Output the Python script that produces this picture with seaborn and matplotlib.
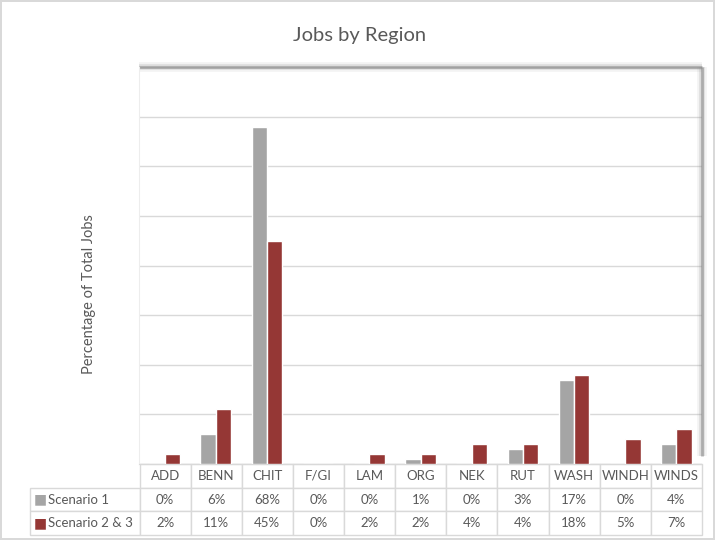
import matplotlib
matplotlib.use("Agg")
import matplotlib.pyplot as plt
import seaborn as sns
import pandas as pd

#%% data
regions = ["ADD", "BENN", "CHIT", "F/GI", "LAM", "ORG", "NEK", "RUT", "WASH", "WINDH", "WINDS"]
scenario_1 = [0, 6, 68, 0, 0, 1, 0, 3, 17, 0, 4]
scenario_23 = [2, 11, 45, 0, 2, 2, 4, 4, 18, 5, 7]
series_names = ["Scenario 1", "Scenario 2 & 3"]
colors = ["#A5A5A5", "#953735"]

df = pd.DataFrame({
    "region": regions * 2,
    "scenario": [series_names[0]] * len(regions) + [series_names[1]] * len(regions),
    "value": scenario_1 + scenario_23,
})

#%% figure
sns.set_style("white")
plt.rcParams["font.family"] = ["Lato", "DejaVu Sans"]
text_col = "#595959"
line_col = "#D9D9D9"

fig = plt.figure(figsize=(7.15, 5.4), dpi=100)
fig.patch.set_edgecolor(line_col)
fig.patch.set_linewidth(1.5)
ax = fig.add_axes([139 / 715, 1 - 464 / 540, (702 - 139) / 715, (464 - 67) / 540])

sns.barplot(data=df, x="region", y="value", hue="scenario", palette=colors,
            width=0.6, saturation=1, ax=ax, legend=False, zorder=3)

ax.set_ylim(0, 80)
ax.set_yticks(range(0, 81, 10))
ax.set_yticklabels([])
ax.set_xticklabels([])
ax.tick_params(length=0)
ax.set_xlabel("")
ax.set_ylabel("")
ax.yaxis.grid(True, color=line_col, linewidth=1, zorder=0)
for s in ["top", "right"]:
    ax.spines[s].set_visible(False)
ax.spines["left"].set_color("#EDEDED")
ax.spines["bottom"].set_color(line_col)

# drop shadow on the plot area (top + right)
for lw, a in [(7, 0.10), (4, 0.22), (2, 0.6)]:
    ax.plot([0, 1], [1, 1], transform=ax.transAxes, color="#8C8C8C", lw=lw,
            alpha=a, clip_on=False, solid_capstyle="butt", zorder=1)
    ax.plot([1, 1], [0.02, 1], transform=ax.transAxes, color="#8C8C8C", lw=lw,
            alpha=a, clip_on=False, solid_capstyle="butt", zorder=1)
ax.set_xlim(-0.5, len(regions) - 0.5)
ax.set_ylim(0, 80)

#%% data table
cell_text = [[""] + regions,
             [series_names[0]] + [f"{v}%" for v in scenario_1],
             [series_names[1]] + [f"{v}%" for v in scenario_23]]
first_w = 110 / 675
col_w = [first_w] + [(1 - first_w) / len(regions)] * len(regions)
tbl = ax.table(cellText=cell_text, colWidths=col_w, cellLoc="center",
               bbox=[(30 - 139) / 563, (464 - 535) / 397, (702 - 30) / 563, 71 / 397])
tbl.auto_set_font_size(False)
tbl.set_fontsize(9.5)
for (r, c), cell in tbl.get_celld().items():
    cell.set_edgecolor(line_col)
    cell.set_linewidth(1)
    cell.get_text().set_color(text_col)
    if r == 0 and c == 0:
        cell.visible_edges = ""
    if r > 0 and c == 0:
        cell.get_text().set_ha("left")
        cell.PAD = 18 / 110

row_y = [(464 - 499) / 397, (464 - 523) / 397]
for y, col in zip(row_y, colors):
    ax.text((40 - 139) / 563, y, "■", color=col, fontsize=10, ha="center",
            va="center", transform=ax.transAxes, family="DejaVu Sans")

#%% titles
fig.text(360 / 715, 1 - 35 / 540, "Jobs by Region", ha="center", va="center",
         fontsize=14.5, color=text_col)
fig.text(89 / 715, 1 - 294 / 540, "Percentage of Total Jobs", rotation=90,
         ha="center", va="center", fontsize=10.5, color=text_col)

fig.savefig("out.png", dpi=100)
